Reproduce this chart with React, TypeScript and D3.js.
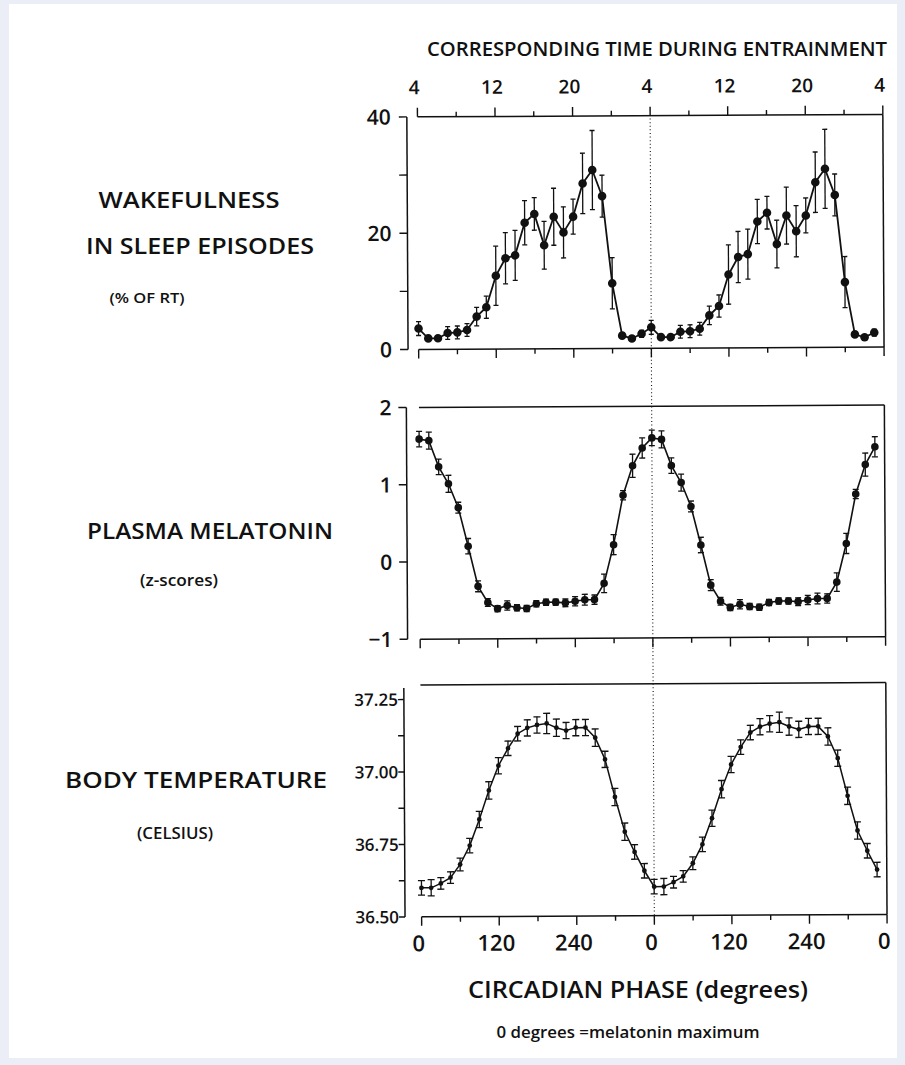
import React from 'react';
import * as d3 from 'd3';

// Hourly bins over one circadian cycle (15 degrees = 1 h); the cycle is double-plotted.
const PHASE_STEP = 15;
const CYCLES = [0, 1];

// Wakefulness within scheduled sleep episodes (% of recording time), mean and SEM
const wakeMean = [3.6, 1.9, 1.9, 2.8, 2.9, 3.3, 5.6, 7.2, 12.6, 15.6, 16.1, 21.7, 23.2, 17.8, 22.7, 20.0, 22.7, 28.4, 30.7, 26.2, 11.2, 2.2, 1.7, 2.5];
const wakeSem = [1.2, 0.4, 0.4, 1.1, 1.1, 1.1, 1.6, 1.9, 5.1, 4.4, 4.3, 3.8, 2.8, 4.1, 4.9, 4.4, 3.0, 5.2, 6.8, 3.6, 4.4, 0.4, 0.4, 0.6];

// Plasma melatonin (z-scores)
const melMean = [1.59, 1.57, 1.23, 1.01, 0.7, 0.2, -0.32, -0.53, -0.61, -0.57, -0.6, -0.61, -0.55, -0.53, -0.53, -0.54, -0.52, -0.5, -0.5, -0.29, 0.21, 0.85, 1.23, 1.46];
const melSem = [0.1, 0.11, 0.1, 0.11, 0.07, 0.1, 0.07, 0.05, 0.04, 0.06, 0.04, 0.04, 0.04, 0.04, 0.04, 0.05, 0.06, 0.07, 0.06, 0.12, 0.13, 0.06, 0.15, 0.13];

// Core body temperature (deg C)
const tempMean = [36.6, 36.6, 36.615, 36.635, 36.68, 36.745, 36.835, 36.935, 37.02, 37.08, 37.13, 37.15, 37.16, 37.165, 37.15, 37.14, 37.15, 37.15, 37.115, 37.04, 36.91, 36.79, 36.72, 36.655];
const tempSem = [0.025, 0.028, 0.02, 0.02, 0.022, 0.025, 0.028, 0.03, 0.028, 0.025, 0.025, 0.028, 0.028, 0.035, 0.03, 0.028, 0.028, 0.028, 0.03, 0.028, 0.03, 0.03, 0.025, 0.025];

// Shared horizontal axis
const phaseTicks = [0, 60, 120, 180, 240, 300, 360, 420, 480, 540, 600, 660, 720];
const phaseLabelTicks = [0, 120, 240, 360, 480, 600, 720];
const phaseLabels = ['0', '120', '240', '0', '120', '240', '0'];
const clockLabels = ['4', '12', '20', '4', '12', '20', '4'];

// Vertical axes
const wakeTicks = [0, 10, 20, 30, 40];
const wakeLabelTicks = [0, 20, 40];
const wakeLabels = ['0', '20', '40'];
const melTicks = [-1, 0, 1, 2];
const melLabelTicks = [-1, 0, 1, 2];
const melLabels = ['\u22121', '0', '1', '2'];
const tempTicks = [36.5, 36.625, 36.75, 36.875, 37.0, 37.125, 37.25];
const tempLabelTicks = [36.5, 36.75, 37.0, 37.25];
const tempLabels = ['36.50', '36.75', '37.00', '37.25'];

type Pt = { phase: number; v: number; e: number };

function doublePlot(mean: number[], sem: number[]): Pt[] {
  const out: Pt[] = [];
  CYCLES.forEach((c) => {
    mean.forEach((v, i) => out.push({ phase: c * 360 + i * PHASE_STEP, v, e: sem[i] }));
  });
  return out;
}

const FONT = "'Open Sans', 'DejaVu Sans', sans-serif";
const INK = '#111';

export default function App() {
  const W = 905;
  const H = 1065;
  const x = d3.scaleLinear().domain([0, 720]).range([419.6, 885]);

  const panels = [
    {
      key: 'wake',
      data: doublePlot(wakeMean, wakeSem),
      y: d3.scaleLinear().domain([0, 40]).range([349.3, 116.7]),
      top: 40,
      bottom: 0,
      axisTop: 40,
      axisX: 409,
      ticks: wakeTicks,
      labelTicks: wakeLabelTicks,
      labels: wakeLabels,
      tickLen: 8,
      labelEnd: 393,
      fontSize: 21,
      r: 4.3,
      cap: 5,
      lw: 1.8,
    },
    {
      key: 'mel',
      data: doublePlot(melMean, melSem),
      y: d3.scaleLinear().domain([-1, 2]).range([639, 407.3]),
      top: 2,
      bottom: -1,
      axisTop: 2,
      axisX: 407,
      ticks: melTicks,
      labelTicks: melLabelTicks,
      labels: melLabels,
      tickLen: 8,
      labelEnd: 392,
      fontSize: 21,
      r: 3.8,
      cap: 6,
      lw: 1.6,
    },
    {
      key: 'temp',
      data: doublePlot(tempMean, tempSem),
      y: d3.scaleLinear().domain([36.5, 37.25]).range([916.7, 699.3]),
      top: 37.3,
      bottom: 36.5,
      axisTop: 37.29,
      axisX: 403,
      ticks: tempTicks,
      labelTicks: tempLabelTicks,
      labels: tempLabels,
      tickLen: 6,
      labelEnd: 397,
      fontSize: 17,
      r: 2.4,
      cap: 7,
      lw: 1.5,
    },
  ];

  const x0 = x(0);
  const x1 = x(720);

  return (
    <svg
      width={W}
      height={H}
      viewBox={`0 0 ${W} ${H}`}
      style={{ position: 'absolute', left: 0, top: 0, display: 'block' }}
      fontFamily={FONT}
    >
      <rect x={0} y={0} width={W} height={H} fill="#ebeef7" />
      <rect x={9} y={4} width={888} height={1054} fill="#ffffff" />

      <g transform="rotate(-0.3 450 530)">
        {/* reference line at the melatonin maximum */}
        <line
          x1={x(360)}
          x2={x(360)}
          y1={116}
          y2={916.7}
          stroke={INK}
          strokeWidth={1.1}
          strokeDasharray="1 2.6"
        />

        {panels.map((p) => {
          const y = p.y;
          const yT = y(p.top);
          const yB = y(p.bottom);
          const line = d3
            .line<Pt>()
            .x((d) => x(d.phase))
            .y((d) => y(d.v));
          return (
            <g key={p.key}>
              {/* left axis */}
              <line x1={p.axisX} x2={p.axisX} y1={y(p.axisTop)} y2={yB} stroke={INK} strokeWidth={1.5} />
              {p.ticks.map((t) => (
                <line
                  key={t}
                  x1={p.axisX - p.tickLen}
                  x2={p.axisX}
                  y1={y(t)}
                  y2={y(t)}
                  stroke={INK}
                  strokeWidth={1.4}
                />
              ))}
              {p.labelTicks.map((t, i) => (
                <text
                  key={t}
                  x={p.labelEnd}
                  y={y(t)}
                  dy="0.36em"
                  textAnchor="end"
                  fontSize={p.fontSize}
                  fontWeight={600}
                  fill={INK}
                >
                  {p.labels[i]}
                </text>
              ))}

              {/* frame */}
              <line x1={x0} x2={x1} y1={yT} y2={yT} stroke={INK} strokeWidth={1.5} />
              <line x1={x1} x2={x1} y1={yT} y2={yB} stroke={INK} strokeWidth={1.5} />
              <line x1={x0} x2={x1} y1={yB} y2={yB} stroke={INK} strokeWidth={1.5} />
              {phaseTicks.map((t, i) => (
                <line
                  key={t}
                  x1={x(t)}
                  x2={x(t)}
                  y1={yB}
                  y2={yB + (i % 2 === 0 ? 9 : 5)}
                  stroke={INK}
                  strokeWidth={1.4}
                />
              ))}

              {/* data */}
              <path d={line(p.data) || ''} fill="none" stroke={INK} strokeWidth={p.lw} />
              {p.data.map((d, i) => (
                <g key={i}>
                  <line x1={x(d.phase)} x2={x(d.phase)} y1={y(d.v - d.e)} y2={y(d.v + d.e)} stroke={INK} strokeWidth={1.3} />
                  <line
                    x1={x(d.phase) - p.cap / 2}
                    x2={x(d.phase) + p.cap / 2}
                    y1={y(d.v + d.e)}
                    y2={y(d.v + d.e)}
                    stroke={INK}
                    strokeWidth={1.3}
                  />
                  <line
                    x1={x(d.phase) - p.cap / 2}
                    x2={x(d.phase) + p.cap / 2}
                    y1={y(d.v - d.e)}
                    y2={y(d.v - d.e)}
                    stroke={INK}
                    strokeWidth={1.3}
                  />
                  <circle cx={x(d.phase)} cy={y(d.v)} r={p.r} fill={INK} />
                </g>
              ))}
            </g>
          );
        })}

        {/* clock-time axis on top */}
        {phaseTicks.map((t, i) => (
          <line
            key={'c' + t}
            x1={x(t)}
            x2={x(t)}
            y1={panels[0].y(40)}
            y2={panels[0].y(40) - (i % 2 === 0 ? 9 : 5)}
            stroke={INK}
            strokeWidth={1.4}
          />
        ))}
        {phaseLabelTicks.map((t, i) => (
          <text key={'cl' + t} x={x(t) - 3} y={94} textAnchor="middle" fontSize={19} fontWeight={600} fill={INK}>
            {clockLabels[i]}
          </text>
        ))}

        {/* phase labels at the bottom */}
        {phaseLabelTicks.map((t, i) => (
          <text key={'pl' + t} x={x(t) - 3} y={951} textAnchor="middle" fontSize={22} fontWeight={600} fill={INK}>
            {phaseLabels[i]}
          </text>
        ))}
      </g>

      {/* titles */}
      <text x={657} y={56} textAnchor="middle" fontSize={19} fontWeight={600} fill={INK} textLength={460} lengthAdjust="spacingAndGlyphs">
        CORRESPONDING TIME DURING ENTRAINMENT
      </text>
      <text x={638} y={998} textAnchor="middle" fontSize={24} fontWeight={600} fill={INK} textLength={340} lengthAdjust="spacingAndGlyphs">
        CIRCADIAN PHASE (degrees)
      </text>
      <text x={628} y={1038} textAnchor="middle" fontSize={17} fontWeight={600} fill={INK} textLength={263} lengthAdjust="spacingAndGlyphs">
        0 degrees =melatonin maximum
      </text>

      {/* panel names */}
      <text x={189} y={208} textAnchor="middle" fontSize={21} fontWeight={600} fill={INK} textLength={181} lengthAdjust="spacingAndGlyphs">
        WAKEFULNESS
      </text>
      <text x={200} y={254} textAnchor="middle" fontSize={21} fontWeight={600} fill={INK} textLength={228} lengthAdjust="spacingAndGlyphs">
        IN SLEEP EPISODES
      </text>
      <text x={147} y={303} textAnchor="middle" fontSize={15} fontWeight={600} fill={INK} textLength={75} lengthAdjust="spacingAndGlyphs">
        (% OF RT)
      </text>
      <text x={210} y={539} textAnchor="middle" fontSize={21} fontWeight={600} fill={INK} textLength={246} lengthAdjust="spacingAndGlyphs">
        PLASMA MELATONIN
      </text>
      <text x={179} y={586} textAnchor="middle" fontSize={16} fontWeight={600} fill={INK} textLength={78} lengthAdjust="spacingAndGlyphs">
        (z-scores)
      </text>
      <text x={196} y={788} textAnchor="middle" fontSize={21} fontWeight={600} fill={INK} textLength={262} lengthAdjust="spacingAndGlyphs">
        BODY TEMPERATURE
      </text>
      <text x={175} y={839} textAnchor="middle" fontSize={16} fontWeight={600} fill={INK} textLength={76} lengthAdjust="spacingAndGlyphs">
        (CELSIUS)
      </text>
    </svg>
  );
}
